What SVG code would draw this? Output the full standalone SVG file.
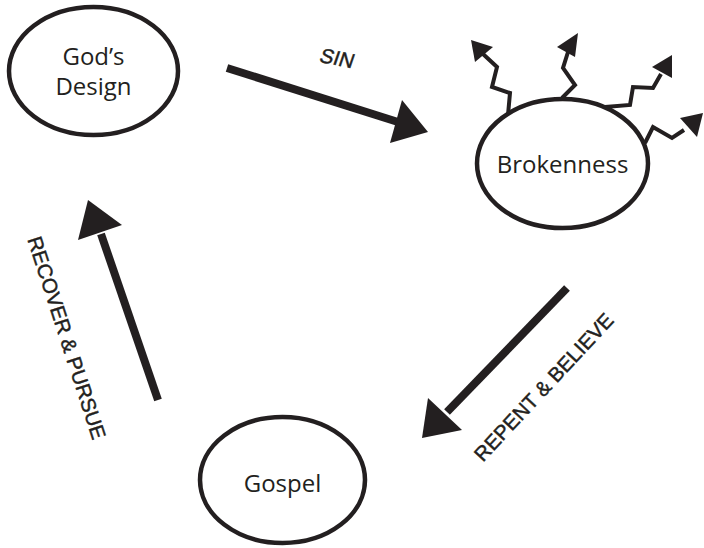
<svg xmlns="http://www.w3.org/2000/svg" width="704" height="548" viewBox="0 0 704 548">
<style>
.node{fill:#fff;stroke:#231f20;stroke-width:4.5}
.nt{font-family:"Open Sans","Noto Sans",sans-serif;font-size:24px;font-weight:400;fill:#231f20;text-anchor:middle}
.lbl{font-family:"Liberation Sans",Arial,sans-serif;font-size:20.5px;fill:#231f20;stroke:#231f20;stroke-width:0.45;text-anchor:middle}
.big{stroke:#231f20;stroke-width:8;fill:none;stroke-linecap:butt}
.sq{stroke:#231f20;stroke-width:4;fill:none;stroke-linejoin:miter}
.hd{fill:#231f20}
</style>
<rect width="704" height="548" fill="#fff"/>
<g id="connectors">
  <line class="big" x1="227" y1="68" x2="398" y2="122"/>
  <polygon class="hd" points="428,132 402,100 390,143"/>
  <text class="lbl" font-size="19" transform="translate(335,65) rotate(11) skewX(-8)">SIN</text>
  <line class="big" x1="567" y1="288" x2="447" y2="412"/>
  <polygon class="hd" points="422,438 428,398 462,430"/>
  <text class="lbl" transform="translate(549,392) rotate(-47)">REPENT &amp; BELIEVE</text>
  <line class="big" x1="158" y1="400" x2="101" y2="234"/>
  <polygon class="hd" points="88,200 78,240 122,225"/>
  <text class="lbl" transform="translate(60,340) rotate(72)">RECOVER &amp; PURSUE</text>
</g>
<g id="brokenness-rays">
  <polyline class="sq" points="508,115 510,93 492,87 497,67 483,54"/>
  <polygon class="hd" points="471,40 475,62 493,47"/>
  <polyline class="sq" points="562,98 575,85 563,68 568,52"/>
  <polygon class="hd" points="578,33 557,47 575,57"/>
  <polyline class="sq" points="605,107 630,105 633,87 653,88 661,74"/>
  <polygon class="hd" points="672,55 652,67 672,78"/>
  <polyline class="sq" points="645,143 653,127 672,138 684,130"/>
  <polygon class="hd" points="703,113 680,118 697,137"/>
</g>
<g id="gods-design">
  <ellipse class="node" cx="93.5" cy="71" rx="84.5" ry="64"/>
  <text class="nt" x="93.5" y="65">God’s</text>
  <text class="nt" x="93.5" y="95">Design</text>
</g>
<g id="brokenness">
  <ellipse class="node" cx="562.5" cy="163.5" rx="85.5" ry="64.5"/>
  <text class="nt" x="562.5" y="173">Brokenness</text>
</g>
<g id="gospel">
  <ellipse class="node" cx="282.5" cy="480" rx="82.5" ry="63"/>
  <text class="nt" x="282.5" y="492">Gospel</text>
</g>
</svg>
